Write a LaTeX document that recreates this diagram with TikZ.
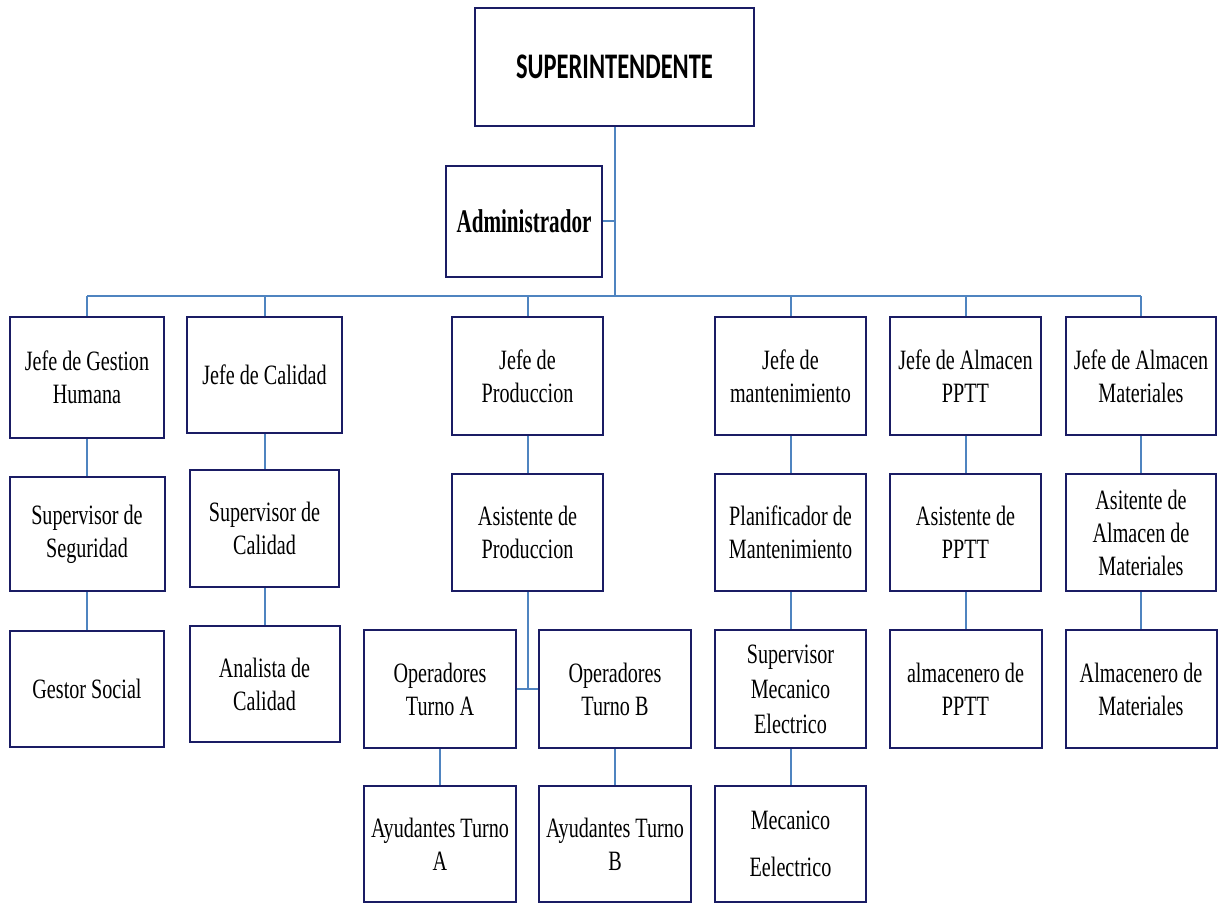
\documentclass[tikz,border=0pt]{standalone}
\usepackage{fontspec}
\newfontfamily\bodyfont[FakeStretch=0.72]{Liberation Serif}
\newfontfamily\adminfont[FakeStretch=0.64]{Liberation Serif}
\newfontfamily\topfont[FakeStretch=0.68]{Carlito}
\definecolor{boxline}{HTML}{1A1C64}
\definecolor{linkline}{HTML}{4F84C0}
\begin{document}
\begin{tikzpicture}[x=1pt,y=-1pt,
  orgbox/.style={draw=boxline, line width=2pt, fill=white, align=center,
    inner sep=0pt, font=\bodyfont\fontsize{28}{33}\selectfont},
  link/.style={draw=linkline, line width=2pt}]
\useasboundingbox[fill=white] (0,0) rectangle (1219,904);

% top levels
\node[orgbox, minimum width=279pt, minimum height=118pt, font=\topfont\bfseries\fontsize{36}{40}\selectfont] (super) at (614.5,67) {SUPERINTENDENTE};
\node[orgbox, minimum width=156pt, minimum height=111pt, font=\adminfont\bfseries\fontsize{33}{38}\selectfont] (admin) at (524,221.5) {Administrador};

% heads of department
\node[orgbox, minimum width=154pt, minimum height=121pt] (gh)  at (87,377.5)  {Jefe de Gestion\\Humana};
\node[orgbox, minimum width=155pt, minimum height=116pt] (jc)  at (264.5,375) {Jefe de Calidad};
\node[orgbox, minimum width=151pt, minimum height=118pt] (jp)  at (527.5,376) {Jefe de\\Produccion};
\node[orgbox, minimum width=151pt, minimum height=118pt] (jm)  at (790.5,376) {Jefe de\\mantenimiento};
\node[orgbox, minimum width=151pt, minimum height=118pt] (jap) at (965.5,376) {Jefe de Almacen\\PPTT};
\node[orgbox, minimum width=150pt, minimum height=118pt] (jam) at (1141,376)  {Jefe de Almacen\\Materiales};

% second level
\node[orgbox, minimum width=155pt, minimum height=114pt] (ss)  at (87,534)      {Supervisor de\\Seguridad};
\node[orgbox, minimum width=149pt, minimum height=117pt] (sc)  at (264.5,528.5) {Supervisor de\\Calidad};
\node[orgbox, minimum width=151pt, minimum height=117pt] (ap)  at (527.5,532.5) {Asistente de\\Produccion};
\node[orgbox, minimum width=151pt, minimum height=117pt] (pm)  at (790.5,532.5) {Planificador de\\Mantenimiento};
\node[orgbox, minimum width=151pt, minimum height=117pt] (asp) at (965.5,532.5) {Asistente de\\PPTT};
\node[orgbox, minimum width=150pt, minimum height=117pt] (aam) at (1141,532.5)  {Asitente de\\Almacen de\\Materiales};

% third level
\node[orgbox, minimum width=154pt, minimum height=116pt] (gs)  at (87,689)     {Gestor Social};
\node[orgbox, minimum width=150pt, minimum height=116pt] (ac)  at (264.5,684)  {Analista de\\Calidad};
\node[orgbox, minimum width=152pt, minimum height=118pt] (oa)  at (440,689)    {Operadores\\Turno A};
\node[orgbox, minimum width=152pt, minimum height=118pt] (ob)  at (615,689)    {Operadores\\Turno B};
\node[orgbox, minimum width=151pt, minimum height=118pt, font=\bodyfont\fontsize{28}{35}\selectfont] (sme) at (790.5,689) {Supervisor\\Mecanico\\Electrico};
\node[orgbox, minimum width=152pt, minimum height=118pt] (alp) at (965.5,689)  {almacenero de\\PPTT};
\node[orgbox, minimum width=151pt, minimum height=118pt] (alm) at (1141,689)   {Almacenero de\\Materiales};

% fourth level
\node[orgbox, minimum width=152pt, minimum height=116pt] (ata) at (440,844)   {Ayudantes Turno\\A};
\node[orgbox, minimum width=152pt, minimum height=116pt] (atb) at (615,844)   {Ayudantes Turno\\B};
\node[orgbox, minimum width=151pt, minimum height=116pt, font=\bodyfont\fontsize{28}{47}\selectfont] (me) at (790.5,844) {Mecanico\\Eelectrico};

% connectors
\coordinate (busL) at (87,296);
\coordinate (busR) at (1141,296);
\draw[link] (busL) -- (busR);
\draw[link] (super.south) -- (super.south |- busL);
\draw[link] (admin.east) -- (admin.east -| super.south);
\foreach \n in {gh,jc,jp,jm,jap,jam}
  \draw[link] (\n.north) -- (\n.north |- busL);
\draw[link] (gh.south) -- (ss.north);
\draw[link] (ss.south) -- (gs.north);
\draw[link] (jc.south) -- (sc.north);
\draw[link] (sc.south) -- (ac.north);
\draw[link] (jp.south) -- (ap.north);
\draw[link] (ap.south) -- (ap.south |- oa.east);
\draw[link] (oa.east) -- (ob.west);
\draw[link] (oa.south) -- (ata.north);
\draw[link] (ob.south) -- (atb.north);
\draw[link] (jm.south) -- (pm.north);
\draw[link] (pm.south) -- (sme.north);
\draw[link] (sme.south) -- (me.north);
\draw[link] (jap.south) -- (asp.north);
\draw[link] (asp.south) -- (alp.north);
\draw[link] (jam.south) -- (aam.north);
\draw[link] (aam.south) -- (alm.north);
\end{tikzpicture}
\end{document}
